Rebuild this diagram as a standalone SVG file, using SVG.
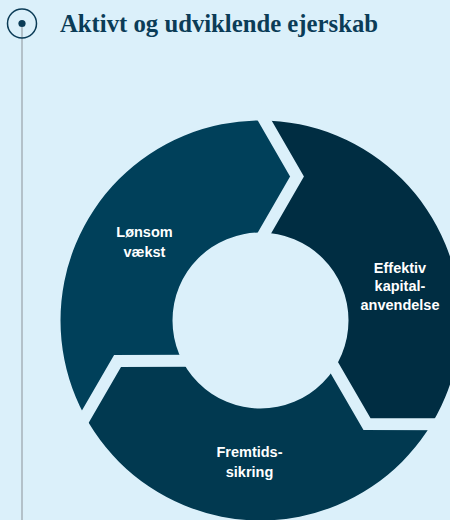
<svg xmlns="http://www.w3.org/2000/svg" width="450" height="520" viewBox="0 0 450 520">
<defs>
<style>
.bg{fill:#dbf0fa}
.lbl{font-family:"Liberation Sans",Arial,sans-serif;font-weight:bold;font-size:14.5px;fill:#ffffff;text-anchor:middle}
.gap{fill:none;stroke:#dbf0fa;stroke-width:12;stroke-linejoin:miter}
</style>
<clipPath id="ring">
<path clip-rule="evenodd" d="M60.5,320.5a200,200 0 1,0 400,0a200,200 0 1,0 -400,0ZM172.5,320.5a88,88 0 1,0 176,0a88,88 0 1,0 -176,0Z"/>
</clipPath>
</defs>
<rect class="bg" x="0" y="0" width="450" height="520"/>
<g id="header">
<line x1="22" y1="27" x2="22" y2="520" stroke="#9ea8af" stroke-width="1.3"/>
<circle cx="22" cy="23.5" r="14.5" fill="none" stroke="#0b3c57" stroke-width="1.5"/>
<circle cx="22" cy="23.5" r="3.6" fill="#0b3c57"/>
<text x="60" y="31.7" textLength="318" lengthAdjust="spacingAndGlyphs" font-family="'Liberation Serif','Times New Roman',serif" font-weight="bold" font-size="25" fill="#0b3c57">Aktivt og udviklende ejerskab</text>
</g>
<g id="node-lonsom">
<polygon clip-path="url(#ring)" fill="#00405a" points="260.5,320.5 191.42,360.85 117.55,360.89 67.86,446.85 -172.5,70.5 247.4,90.5 297,176.5 260.1,240.5"/>
<text class="lbl" x="144.5" y="236.7">Lønsom</text>
<text class="lbl" x="144.5" y="256.5">vækst</text>
</g>
<g id="node-effektiv">
<polygon clip-path="url(#ring)" fill="#002d42" points="260.5,320.5 260.1,240.5 297,176.5 247.4,90.5 693.5,70.5 466.24,424.15 366.95,424.11 329.98,360.15"/>
<text class="lbl" x="400" y="272.5">Effektiv</text>
<text class="lbl" x="400" y="291">kapital-</text>
<text class="lbl" x="400" y="309.5">anvendelse</text>
</g>
<g id="node-fremtid">
<polygon clip-path="url(#ring)" fill="#013950" points="260.5,320.5 329.98,360.15 366.95,424.11 466.24,424.15 260.5,820.5 67.86,446.85 117.55,360.89 191.42,360.85"/>
<text class="lbl" x="249.5" y="457.3">Fremtids-</text>
<text class="lbl" x="249.5" y="476.7">sikring</text>
</g>
<g id="gaps">
<polyline class="gap" points="260.1,240.5 297,176.5 247.4,90.5"/>
<polyline class="gap" points="329.98,360.15 366.95,424.11 466.24,424.15"/>
<polyline class="gap" points="191.42,360.85 117.55,360.89 67.86,446.85"/>
</g>
</svg>
